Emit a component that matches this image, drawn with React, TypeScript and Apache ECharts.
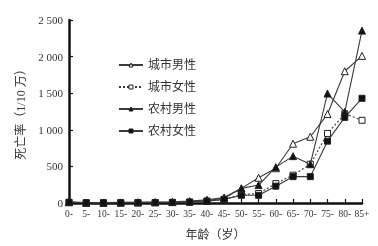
import React, { useEffect, useRef } from "react";
import * as echarts from "echarts";

const categories = ["0-", "5-", "10-", "15-", "20-", "25-", "30-", "35-", "40-", "45-", "50-", "55-", "60-", "65-", "70-", "75-", "80-", "85+"];
const urbanMale = [10, 3, 3, 5, 8, 10, 12, 20, 35, 65, 200, 345, 475, 810, 905, 1215, 1800, 2010];
const urbanFemale = [8, 2, 2, 3, 4, 5, 8, 12, 25, 45, 115, 130, 265, 380, 530, 950, 1220, 1130];
const ruralMale = [15, 5, 5, 8, 10, 12, 15, 25, 45, 75, 200, 245, 490, 640, 530, 1495, 1245, 2355];
const ruralFemale = [10, 3, 3, 4, 5, 6, 8, 12, 25, 50, 105, 105, 230, 360, 360, 845, 1170, 1430];
const seriesNames = ["城市男性", "城市女性", "农村男性", "农村女性"];
const seriesFilled = [false, false, true, true];

const serif = "'Liberation Serif', 'Noto Sans CJK SC', serif";
const lineColor = "#3a3a3a";

export default function App() {
  const ref = useRef<HTMLDivElement>(null);
  useEffect(() => {
    if (!ref.current) return;
    const chart = echarts.init(ref.current, undefined, { renderer: "svg" });
    const mk = (name: string, data: number[], symbol: string, filled: boolean, dashed: boolean) => ({
      name,
      type: "line",
      data,
      symbol,
      symbolSize: symbol === "triangle" ? 7 : 6,
      showAllSymbol: true,
      lineStyle: { color: lineColor, width: 1.1, type: dashed ? [2, 2] : "solid" },
      itemStyle: { color: filled ? "#111" : "#fff", borderColor: "#222", borderWidth: 1 },
    });
    chart.setOption({
      animation: false,
      grid: { left: 69, right: 16, top: 20, bottom: 37 },
      legend: {
        orient: "vertical",
        left: 113,
        top: 54,
        itemWidth: 24,
        itemHeight: 5,
        itemGap: 10,
        textStyle: { fontFamily: serif, fontSize: 12, color: "#333" },
        data: seriesNames.map((n, i) => ({
          name: n,
          itemStyle: { color: seriesFilled[i] ? "#111" : "#fff", borderColor: "#222", borderWidth: 1 },
        })),
      },
      xAxis: {
        type: "category",
        data: categories,
        boundaryGap: false,
        name: "年龄（岁）",
        nameLocation: "middle",
        nameGap: 26,
        nameTextStyle: { fontFamily: serif, fontSize: 12, color: "#333" },
        axisLine: { lineStyle: { color: "#111", width: 2.5 } },
        axisTick: { inside: true, length: 4, alignWithLabel: true, lineStyle: { color: "#111", width: 1.2 } },
        axisLabel: { interval: 0, fontFamily: serif, fontSize: 9.5, color: "#333", margin: 6 },
        splitLine: { show: false },
      },
      yAxis: {
        type: "value",
        min: 0,
        max: 2500,
        interval: 500,
        name: "死亡率（1/10 万）",
        nameLocation: "middle",
        nameGap: 42,
        nameRotate: 90,
        nameTextStyle: { fontFamily: serif, fontSize: 12, color: "#333" },
        axisLine: { show: true, lineStyle: { color: "#111", width: 2.5 } },
        axisTick: { show: true, inside: true, length: 4, lineStyle: { color: "#111", width: 1.2 } },
        axisLabel: {
          fontFamily: serif,
          fontSize: 11,
          color: "#333",
          margin: 6,
          formatter: (v: number) => String(v).replace(/\B(?=(\d{3})+(?!\d))/g, " "),
        },
        splitLine: { show: false },
      },
      series: [
        mk(seriesNames[0], urbanMale, "triangle", false, false),
        mk(seriesNames[1], urbanFemale, "rect", false, true),
        mk(seriesNames[2], ruralMale, "triangle", true, false),
        mk(seriesNames[3], ruralFemale, "rect", true, false),
      ],
    });
    return () => chart.dispose();
  }, []);
  return <div ref={ref} style={{ position: "fixed", left: 0, top: 0, width: 378, height: 246 }} />;
}
